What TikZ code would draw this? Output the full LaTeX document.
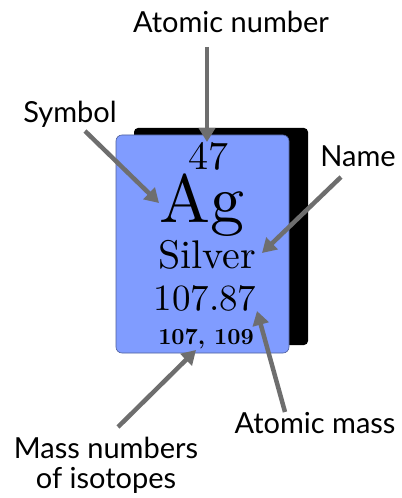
\documentclass[tikz,border=0pt]{standalone}
\usepackage{fontspec}
\usetikzlibrary{arrows.meta}
\newfontfamily\labelfont{Lato}
\newfontfamily\cardfont[BoldFont=lmroman10-bold.otf]{lmroman10-regular.otf}
\definecolor{cardblue}{RGB}{128,156,255}
\definecolor{arrowgray}{RGB}{110,110,110}

\begin{document}
\begin{tikzpicture}[x=1bp,y=-1bp,
                    lbl/.style={inner sep=0pt,anchor=base,font=\labelfont\fontsize{29bp}{30bp}\selectfont},
                    txt/.style={inner sep=0pt,anchor=base},
                    pointer/.style={draw=arrowgray,line width=4.5bp,-{Triangle[length=14bp,width=16bp]}}]
  % Periodic table cell for silver, with its parts labelled.
  \useasboundingbox (0,0) rectangle (401,498);
  \fill[black,rounded corners=4bp] (134,128) rectangle (308,345);
  \draw[fill=cardblue,draw=cardblue!60!black,line width=0.6bp,rounded corners=6bp]
       (116,135) rectangle (289,353);
  \node[txt,font=\cardfont\fontsize{40bp}{48bp}\selectfont] (num) at (208,170) {47};
  \node[txt,font=\cardfont\fontsize{68bp}{80bp}\selectfont] (sym) at (202,222) {Ag};
  \node[txt,font=\cardfont\fontsize{40bp}{48bp}\selectfont] (name) at (207,268) {Silver};
  \node[txt,font=\cardfont\fontsize{37bp}{44bp}\selectfont] (mass) at (205,310) {107.87};
  \node[txt,font=\cardfont\bfseries\fontsize{23bp}{28bp}\selectfont] (iso) at (206,344) {107, 109};
  \node[lbl] (lNum) at (231,33) {Atomic number};
  \node[lbl] (lSym) at (70,123) {Symbol};
  \node[lbl] (lName) at (358,167) {Name};
  \node[lbl] (lMass) at (315,433) {Atomic mass};
  \node[lbl,anchor=north,align=center] (lIso) at (106,437) {Mass numbers\\of isotopes};
  \coordinate (tNum) at (207,47);  \coordinate (hNum) at (207,142);
  \coordinate (tSym) at (85,131);  \coordinate (hSym) at (159,203);
  \coordinate (tName) at (341,177); \coordinate (hName) at (262,253);
  \coordinate (tMass) at (285,412); \coordinate (hMass) at (257,311);
  \coordinate (tIso) at (118,427); \coordinate (hIso) at (196,350);
  \draw[pointer] (tNum)--(hNum);
  \draw[pointer] (tSym)--(hSym);
  \draw[pointer] (tName)--(hName);
  \draw[pointer] (tMass)--(hMass);
  \draw[pointer] (tIso)--(hIso);
\end{tikzpicture}
\end{document}
